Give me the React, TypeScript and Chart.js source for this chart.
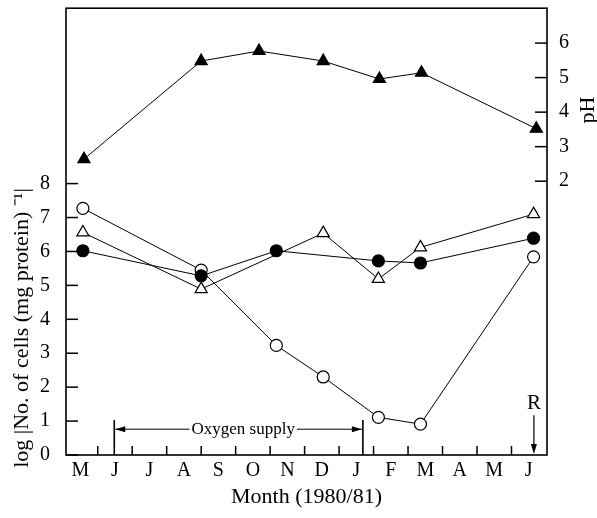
import React, { useEffect, useRef } from 'react';
import { Chart, registerables } from 'chart.js';

Chart.register(...registerables);

// ---- data ----
const monthLabels = ['M', 'J', 'J', 'A', 'S', 'O', 'N', 'D', 'J', 'F', 'M', 'A', 'M', 'J'];
const monthBoundaries = [1, 2, 3, 4, 5, 6, 7, 8, 9, 10, 11, 12, 13];
const cellTicks = [0, 1, 2, 3, 4, 5, 6, 7, 8];
const phTicks = [2, 3, 4, 5, 6];

// pH (filled triangles), right axis
const phMonths = [0.6, 4.0, 5.68, 7.54, 9.17, 10.39, 13.72];
const phValues = [2.64, 5.48, 5.77, 5.48, 4.96, 5.14, 3.52];

// open circles
const openCircleMonths = [0.57, 4.0, 6.18, 7.54, 9.14, 10.36, 13.64];
const openCircleValues = [7.27, 5.45, 3.23, 2.3, 1.11, 0.91, 5.84];

// filled circles
const filledCircleMonths = [0.57, 4.0, 6.18, 9.14, 10.36, 13.64];
const filledCircleValues = [6.02, 5.28, 6.02, 5.72, 5.66, 6.39];

// open triangles
const openTriangleMonths = [0.57, 4.0, 7.54, 9.14, 10.36, 13.64];
const openTriangleValues = [6.56, 4.89, 6.54, 5.19, 6.12, 7.1];

// annotations (in axis units)
const oxygenStart = 1.48;
const oxygenEnd = 8.69;
const oxygenLevel = 0.76;
const oxygenBarTop = 1.03;
const oxygenText = 'Oxygen supply';
const oxygenTextMonth = 5.22;
const rMonth = 13.65;
const rLabelLevel = 1.53;
const rArrowTop = 1.17;

const FONT = '"Liberation Serif", "Times New Roman", serif';

function pts(xs: number[], ys: number[]) {
  return xs.map((x, i) => ({ x, y: ys[i] }));
}

function line(ctx: CanvasRenderingContext2D, x1: number, y1: number, x2: number, y2: number) {
  ctx.beginPath();
  ctx.moveTo(x1, y1);
  ctx.lineTo(x2, y2);
  ctx.stroke();
}

function arrowHead(ctx: CanvasRenderingContext2D, tx: number, ty: number, dx: number, dy: number, len = 9, half = 3) {
  const bx = tx - dx * len;
  const by = ty - dy * len;
  const px = -dy;
  const py = dx;
  ctx.beginPath();
  ctx.moveTo(tx, ty);
  ctx.lineTo(bx + px * half, by + py * half);
  ctx.lineTo(bx - px * half, by - py * half);
  ctx.closePath();
  ctx.fill();
}

const decorPlugin = {
  id: 'decor',
  afterDraw(chart: any) {
    const { ctx, chartArea: a, scales } = chart;
    const xs = scales.x;
    const ys = scales.y;
    const y2 = scales.y2;
    ctx.save();
    ctx.strokeStyle = '#000';
    ctx.fillStyle = '#000';
    ctx.lineWidth = 1.6;
    ctx.strokeRect(a.left, a.top, a.right - a.left, a.bottom - a.top);

    ctx.lineWidth = 1.5;
    for (const v of cellTicks) {
      const py = ys.getPixelForValue(v);
      line(ctx, a.left, py, a.left + 12, py);
    }
    for (const v of phTicks) {
      const py = y2.getPixelForValue(v);
      line(ctx, a.right - 12, py, a.right, py);
    }
    for (const m of monthBoundaries) {
      const px = xs.getPixelForValue(m);
      line(ctx, px, a.bottom, px, a.bottom - 9);
    }

    // Oxygen supply annotation
    const ox1 = xs.getPixelForValue(oxygenStart);
    const ox2 = xs.getPixelForValue(oxygenEnd);
    const oy = ys.getPixelForValue(oxygenLevel);
    const obt = ys.getPixelForValue(oxygenBarTop);
    ctx.lineWidth = 1.6;
    line(ctx, ox1, a.bottom, ox1, obt);
    line(ctx, ox2, a.bottom, ox2, obt);
    ctx.font = `17px ${FONT}`;
    ctx.textAlign = 'center';
    ctx.textBaseline = 'middle';
    const tx = xs.getPixelForValue(oxygenTextMonth);
    const tw = ctx.measureText(oxygenText).width;
    ctx.lineWidth = 1;
    line(ctx, ox1 + 1, oy, tx - tw / 2 - 2, oy);
    line(ctx, tx + tw / 2 + 2, oy, ox2 - 1, oy);
    arrowHead(ctx, ox1 + 1, oy, -1, 0, 10, 3);
    arrowHead(ctx, ox2 - 1, oy, 1, 0, 10, 3);
    ctx.fillText(oxygenText, tx, oy);

    // R arrow
    const rx = xs.getPixelForValue(rMonth);
    ctx.font = `21px ${FONT}`;
    ctx.fillText('R', rx, ys.getPixelForValue(rLabelLevel));
    ctx.lineWidth = 1.2;
    line(ctx, rx, ys.getPixelForValue(rArrowTop), rx, a.bottom - 8);
    arrowHead(ctx, rx, a.bottom - 1, 0, 1, 10, 3);

    // axis titles
    ctx.font = `22px ${FONT}`;
    ctx.textAlign = 'center';
    ctx.textBaseline = 'middle';
    ctx.fillText('Month (1980/81)', (a.left + a.right) / 2, a.bottom + 42);

    ctx.save();
    ctx.translate(22, 328);
    ctx.rotate(-Math.PI / 2);
    ctx.fillText('log |No. of cells (mg protein) \u207B\u00B9|', 0, 0);
    ctx.restore();

    ctx.save();
    ctx.translate(588, 110);
    ctx.rotate(-Math.PI / 2);
    ctx.fillText('pH', 0, 0);
    ctx.restore();

    ctx.restore();
  },
};

export default function App() {
  const ref = useRef<HTMLCanvasElement>(null);
  useEffect(() => {
    if (!ref.current) return;
    const base = {
      borderColor: '#000',
      borderWidth: 1,
      pointBorderColor: '#000',
      pointBorderWidth: 1.2,
      tension: 0,
      fill: false,
    };
    const noPad = (s: any) => {
      s.paddingTop = 0;
      s.paddingBottom = 0;
      s.paddingLeft = 0;
      s.paddingRight = 0;
    };
    const chart = new Chart(ref.current, {
      type: 'line',
      data: {
        datasets: [
          {
            ...base,
            label: 'pH',
            data: pts(phMonths, phValues),
            yAxisID: 'y2',
            pointStyle: 'triangle',
            pointRadius: 7,
            pointBackgroundColor: '#000',
            order: 1,
          },
          {
            ...base,
            label: 'filled circles',
            data: pts(filledCircleMonths, filledCircleValues),
            yAxisID: 'y',
            pointStyle: 'circle',
            pointRadius: 6,
            pointBackgroundColor: '#000',
            order: 2,
          },
          {
            ...base,
            label: 'open triangles',
            data: pts(openTriangleMonths, openTriangleValues),
            yAxisID: 'y',
            pointStyle: 'triangle',
            pointRadius: 7,
            pointBackgroundColor: '#fff',
            order: 3,
          },
          {
            ...base,
            label: 'open circles',
            data: pts(openCircleMonths, openCircleValues),
            yAxisID: 'y',
            pointStyle: 'circle',
            pointRadius: 6,
            pointBackgroundColor: '#fff',
            order: 4,
          },
        ],
      },
      options: {
        animation: false,
        responsive: false,
        layout: { padding: { top: 7, left: 0, right: 0, bottom: 0 } },
        plugins: { legend: { display: false }, tooltip: { enabled: false } },
        scales: {
          x: {
            type: 'linear',
            position: 'bottom',
            min: 0.08,
            max: 14.03,
            grid: { display: false },
            border: { display: false },
            afterBuildTicks: (s: any) => {
              s.ticks = monthLabels.map((_, i) => ({ value: i + 0.5 }));
            },
            afterFit: (s: any) => {
              s.height = 63;
              noPad(s);
            },
            ticks: {
              autoSkip: false,
              maxRotation: 0,
              padding: -4,
              color: '#000',
              font: { family: FONT, size: 20 },
              callback: (_v: any, i: number) => monthLabels[i],
            },
          },
          y: {
            type: 'linear',
            position: 'left',
            min: 0,
            max: 13.17,
            grid: { display: false },
            border: { display: false },
            afterBuildTicks: (s: any) => {
              s.ticks = cellTicks.map((v) => ({ value: v }));
            },
            afterFit: (s: any) => {
              s.width = 66;
              noPad(s);
            },
            ticks: {
              padding: 8,
              color: '#000',
              font: { family: FONT, size: 20 },
            },
          },
          y2: {
            type: 'linear',
            position: 'right',
            min: -5.93,
            max: 7.01,
            grid: { display: false },
            border: { display: false },
            afterBuildTicks: (s: any) => {
              s.ticks = phTicks.map((v) => ({ value: v }));
            },
            afterFit: (s: any) => {
              s.width = 50;
              noPad(s);
            },
            ticks: {
              padding: 4,
              color: '#000',
              font: { family: FONT, size: 20 },
            },
          },
        },
      },
      plugins: [decorPlugin],
    } as any);
    return () => chart.destroy();
  }, []);
  return (
    <div style={{ position: 'fixed', left: 0, top: 0, width: 597, height: 518, background: '#fff' }}>
      <canvas ref={ref} width={597} height={518} style={{ display: 'block' }} />
    </div>
  );
}
